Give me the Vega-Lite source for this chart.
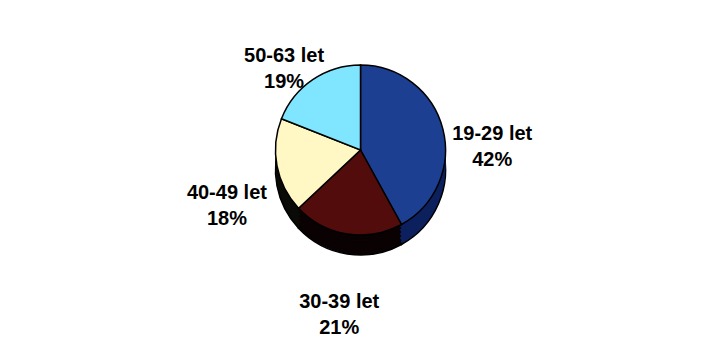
{
  "$schema": "https://vega.github.io/schema/vega-lite/v6.json",
  "width": 721,
  "height": 338,
  "autosize": {"type": "fit", "contains": "padding"},
  "padding": 0,
  "background": "white",
  "view": {"stroke": null},
  "data": {
    "values": [
      {"skupina": "19-29 let", "podil": 42},
      {"skupina": "30-39 let", "podil": 21},
      {"skupina": "40-49 let", "podil": 18},
      {"skupina": "50-63 let", "podil": 19}
    ]
  },
  "transform": [
    {"calculate": "datum.skupina + '\\n' + datum.podil + '%'", "as": "popisek"}
  ],
  "encoding": {
    "theta": {"field": "podil", "type": "quantitative", "stack": true}
  },
  "layer": [
    {
      "mark": {"type": "arc", "outerRadius": 85, "yOffset": 2, "stroke": "black", "strokeWidth": 1.5},
      "encoding": {"color": {"field": "skupina", "type": "nominal", "legend": null,
        "scale": {"range": ["#0c205e", "#0a0202", "#0a0a06", "#0a1a22"]}}}
    },
    {
      "mark": {"type": "arc", "outerRadius": 85, "yOffset": -2},
      "encoding": {"color": {"field": "skupina", "type": "nominal", "legend": null,
        "scale": {"range": ["#0c205e", "#0a0202", "#0a0a06", "#0a1a22"]}}}
    },
    {
      "mark": {"type": "arc", "outerRadius": 85, "yOffset": -6},
      "encoding": {"color": {"field": "skupina", "type": "nominal", "legend": null,
        "scale": {"range": ["#0c205e", "#0a0202", "#0a0a06", "#0a1a22"]}}}
    },
    {
      "mark": {"type": "arc", "outerRadius": 85, "yOffset": -10},
      "encoding": {"color": {"field": "skupina", "type": "nominal", "legend": null,
        "scale": {"range": ["#0c205e", "#0a0202", "#0a0a06", "#0a1a22"]}}}
    },
    {
      "mark": {"type": "arc", "outerRadius": 85, "yOffset": -14},
      "encoding": {"color": {"field": "skupina", "type": "nominal", "legend": null,
        "scale": {"range": ["#0c205e", "#0a0202", "#0a0a06", "#0a1a22"]}}}
    },
    {
      "mark": {"type": "arc", "outerRadius": 85, "yOffset": -18, "stroke": "black", "strokeWidth": 1.5},
      "encoding": {"color": {"field": "skupina", "type": "nominal", "legend": null,
        "scale": {"range": ["#1d3f92", "#520c0c", "#fff8c4", "#80e6ff"]}}}
    },
    {
      "mark": {"type": "text", "radius": 136, "lineBreak": "\n",
        "font": "Liberation Sans", "fontSize": 20, "fontWeight": "bold",
        "fill": "black", "lineHeight": 26},
      "encoding": {
        "detail": {"field": "skupina", "type": "nominal"},
        "text": {"field": "popisek", "type": "nominal"}
      }
    }
  ],
  "resolve": {"scale": {"color": "independent"}}
}
